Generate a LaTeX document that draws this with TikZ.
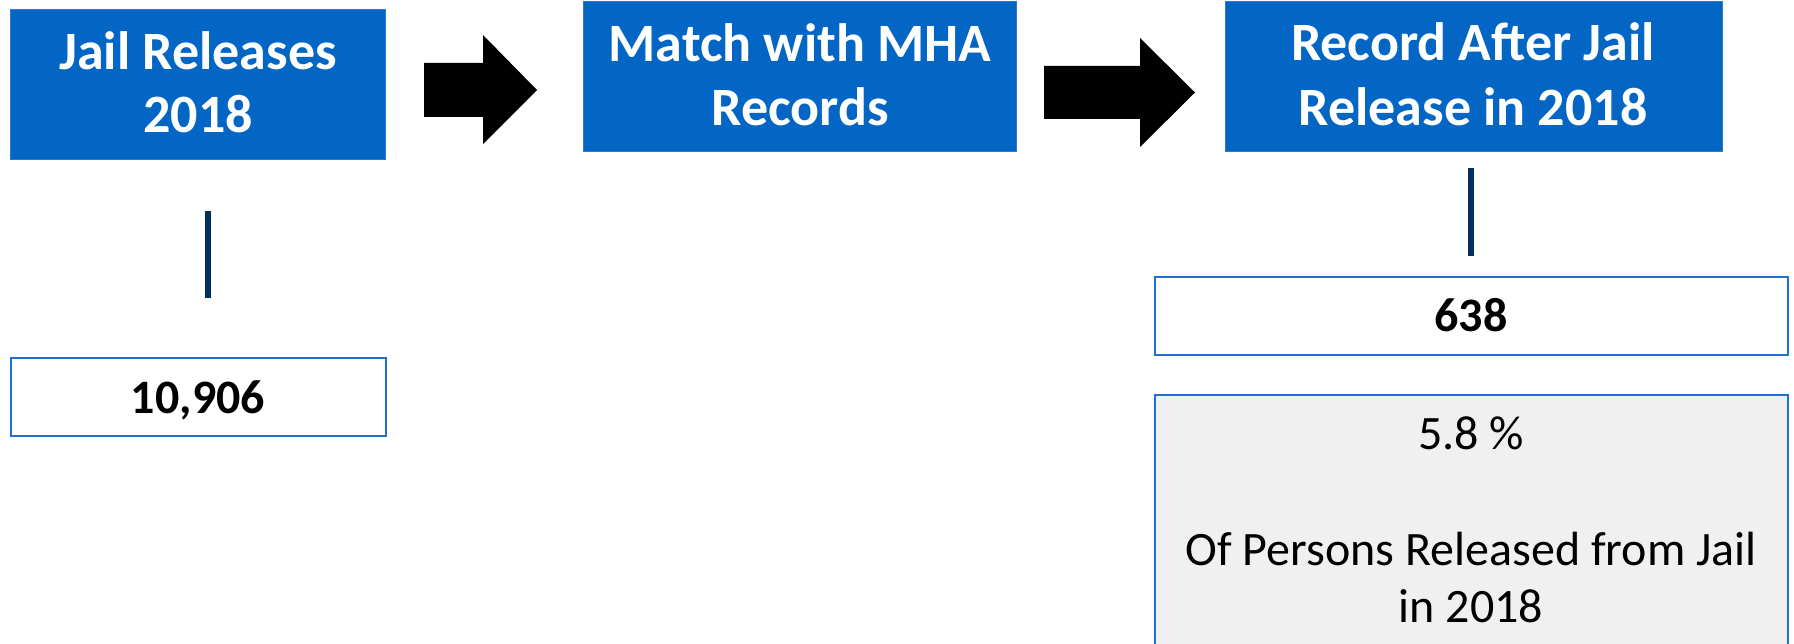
\documentclass[tikz,border=0pt]{standalone}
\usepackage{fontspec}
\setmainfont{Carlito}
\definecolor{boxblue}{HTML}{0466C4}
\definecolor{edgeblue}{HTML}{2070D0}
\definecolor{navy}{HTML}{00305F}
\definecolor{lightgray}{HTML}{F0F0F0}
\begin{document}
\begin{tikzpicture}[x=1pt,y=-1pt,
  bluebox/.style={fill=boxblue, draw=boxblue!85!white, line width=1pt, inner sep=0pt},
  numbox/.style={fill=white, draw=edgeblue, line width=2pt, inner sep=0pt},
  graybox/.style={fill=lightgray, draw=edgeblue, line width=2pt},
  headtxt/.style={anchor=base, inner sep=0pt, text=white, font=\fontsize{54}{64}\selectfont\bfseries},
  numtxt/.style={anchor=base, inner sep=0pt, text=black, font=\fontsize{48}{58}\selectfont\bfseries},
  plaintxt/.style={anchor=base, inner sep=0pt, text=black, font=\fontsize{48}{58}\selectfont},
  stem/.style={draw=navy, line width=5.5pt},
  blockarrow/.style={fill=black}
]
\useasboundingbox (0,0) rectangle (1794,644);

% blue header boxes
\node[bluebox, minimum width=375pt, minimum height=150pt] (b1) at (198.2,84.3) {};
\node[bluebox, minimum width=433pt, minimum height=149.7pt] (b2) at (799.5,76.2) {};
\node[bluebox, minimum width=497pt, minimum height=149.7pt] (b3) at (1473.5,76.2) {};

\node[headtxt] (b1a) at (198,70) {Jail Releases};
\node[headtxt] (b1b) at (198,133) {2018};
\node[headtxt] (b2a) at (800,62) {Match with MHA};
\node[headtxt] (b2b) at (800,126) {Records};
\node[headtxt] (b3a) at (1473,61) {Record After Jail};
\node[headtxt] (b3b) at (1473,126) {Release in 2018};

% block arrows
\fill[blockarrow] (424,63) -- (483,63) -- (483,35) -- (537,90) -- (483,144) -- (483,117) -- (424,117) -- cycle;
\fill[blockarrow] (1044,66) -- (1140,66) -- (1140,38) -- (1195,92.5) -- (1140,147) -- (1140,119) -- (1044,119) -- cycle;

% stems
\coordinate (s1a) at (208,211);
\coordinate (s1b) at (208,298);
\coordinate (s2a) at (1471,168);
\coordinate (s2b) at (1471,256);
\draw[stem] (s1a) -- (s1b);
\draw[stem] (s2a) -- (s2b);

% number boxes
\node[numbox, minimum width=375pt, minimum height=78pt] (n1) at (198.5,397) {};
\node[numtxt] (n1t) at (198,413) {10,906};
\node[numbox, minimum width=633pt, minimum height=78pt] (n2) at (1471.5,316) {};
\node[numtxt] (n2t) at (1471,332) {638};

% gray percentage box
\node[graybox, inner sep=0pt, minimum width=633pt, minimum height=275pt] (g) at (1471.5,532.5) {};
\node[plaintxt] (g1) at (1471,449) {5.8 \%};
\node[plaintxt] (g2) at (1471,565) {Of Persons Released from Jail};
\node[plaintxt] (g3) at (1471,622) {in 2018};
\end{tikzpicture}
\end{document}
